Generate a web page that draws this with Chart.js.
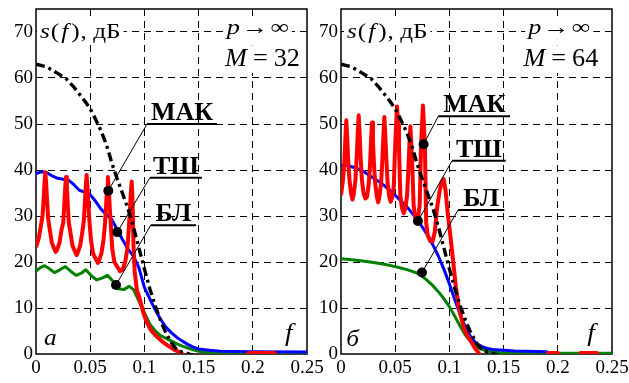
<!DOCTYPE html>
<html>
<head>
<meta charset="utf-8">
<script src="https://cdn.jsdelivr.net/npm/chart.js@4.4.1/dist/chart.umd.min.js"></script>
<style>
  body { margin: 0; background: #fff; font-family: "Liberation Serif", serif; }
  #grafA { position: absolute; left: 0; top: 0; }
  #grafB { position: absolute; left: 300px; top: 0; }
  .precarga { position: absolute; left: -1000px; top: 0; }
</style>
</head>
<body>
<div class="precarga">70 <i>s f M</i> <b>МАК</b> дБ</div>
<canvas id="grafA" width="330" height="383"></canvas>
<canvas id="grafB" width="329" height="383"></canvas>
<script>
/* ===== ДАННЫЕ ===== */
const xTicks = [0, 0.05, 0.1, 0.15, 0.2, 0.25];
const xTickLabels = ["0", "0.05", "0.1", "0.15", "0.2", "0.25"];
const yTicks = [0, 10, 20, 30, 40, 50, 60, 70];

// теоретическая кривая (p -> inf), черная штрихпунктирная
const fTeor = [0, 0.01, 0.02, 0.028, 0.035, 0.04, 0.045, 0.05, 0.055, 0.06, 0.065, 0.07, 0.075, 0.08, 0.085, 0.09, 0.095, 0.1, 0.105, 0.11, 0.115, 0.12, 0.125, 0.13, 0.135, 0.14, 0.145, 0.15];
const sTeor = [63, 62.4, 61, 59.8, 58, 56.5, 55, 53.3, 51, 48.5, 45.5, 41.5, 38, 34.8, 31.5, 27.5, 23, 18.5, 14.2, 10.5, 7.2, 4.5, 2.4, 0.9, 0.4, 0.1, -0.3, -2];

// M = 32
const fMak32 = [0, 0.0026, 0.0046, 0.006, 0.007, 0.0078, 0.0086, 0.0094, 0.0102, 0.0112, 0.0126, 0.0146, 0.018,
  0.0192, 0.0217, 0.0237, 0.0251, 0.0261, 0.0269, 0.0277, 0.0285, 0.0293, 0.0303, 0.0317, 0.0337, 0.0375,
  0.0382, 0.0407, 0.0427, 0.0441, 0.0451, 0.0459, 0.0467, 0.0475, 0.0483, 0.0493, 0.0507, 0.0527, 0.057,
  0.0578, 0.0603, 0.0623, 0.0637, 0.0647, 0.0655, 0.0663, 0.0671, 0.0679, 0.0689, 0.0703, 0.0723, 0.0775,
  0.0798, 0.0823, 0.0843, 0.0857, 0.0867, 0.0875, 0.0883, 0.0891, 0.0899, 0.091, 0.093, 0.096, 0.099, 0.102, 0.106, 0.111, 0.116, 0.1206, 0.127, 0.133, 0.138, 0.145, 0.19, 0.196, 0.22, 0.226, 0.25];
const sMak32 = [23.2, 25.2, 28, 30, 33.5, 37, 39.5, 37, 33.5, 29.5, 27.2, 24.2, 22.2,
  22.5, 24.2, 27.2, 28.5, 32.5, 36, 38.5, 36, 32.5, 28.5, 26.5, 23.5, 21.5,
  21.8, 23.5, 26.5, 28.9, 32.9, 36.4, 38.9, 36.4, 32.9, 28.9, 24.8, 21.8, 19.8,
  20.1, 21.8, 24.8, 28.5, 32.5, 36, 38.5, 36, 32.5, 28.5, 23, 20, 18,
  18.3, 20, 23, 27.5, 31.5, 35, 37.5, 33, 24, 18, 14, 11.7, 9, 7, 5.2, 3.9, 2.8, 2, 1, 0.3, -0.5, -6, -6, 0.2, 0.2, -6, -6];

const fTsh32 = [0, 0.005, 0.01, 0.015, 0.02, 0.025, 0.03, 0.035, 0.04, 0.045, 0.05, 0.055, 0.06, 0.065, 0.07, 0.075, 0.08, 0.085, 0.09, 0.095, 0.1, 0.105, 0.11, 0.115, 0.12, 0.125, 0.13, 0.135, 0.14, 0.145, 0.15, 0.16, 0.17, 0.2, 0.25];
const sTsh32 = [39.2, 39.6, 39.4, 38.7, 38.2, 38, 37.8, 36.8, 35.6, 35.2, 34.6, 33.2, 31.5, 30.3, 29.2, 27, 24.8, 22.8, 21.2, 18.7, 14.5, 12, 9.6, 7.5, 5.8, 4.6, 3.6, 2.8, 2.1, 1.5, 1.1, 0.8, 0.6, 0.5, 0.45];

const fBl32 = [0, 0.004, 0.008, 0.012, 0.017, 0.022, 0.027, 0.032, 0.037, 0.042, 0.046, 0.051, 0.056, 0.061, 0.066, 0.071, 0.076, 0.081, 0.086, 0.09, 0.095, 0.1, 0.105, 0.11, 0.115, 0.12, 0.125, 0.13, 0.135, 0.14, 0.145, 0.15, 0.16, 0.18, 0.25];
const sBl32 = [18, 18.8, 19.2, 18.6, 17.7, 18.3, 19, 18, 17.1, 17.6, 18.3, 17, 16.1, 16.5, 17.1, 15.8, 14.2, 14, 14.7, 14, 11.5, 9, 6.5, 5, 4, 3.4, 2.8, 2.2, 1.7, 1.3, 0.9, 0.6, 0.4, 0.2, 0.1];

// M = 64
const fMak64 = [0, 0.0019, 0.0031, 0.004, 0.0049, 0.0058, 0.0067, 0.0079, 0.0094, 0.0106,
  0.0118, 0.0133, 0.0145, 0.0154, 0.0163, 0.0172, 0.0181, 0.0193, 0.0208, 0.0225,
  0.0241, 0.0256, 0.0268, 0.0277, 0.0286, 0.0295, 0.0304, 0.0316, 0.0331, 0.0343,
  0.0355, 0.037, 0.0382, 0.0391, 0.04, 0.0409, 0.0418, 0.043, 0.0445, 0.0458,
  0.0472, 0.0487, 0.0499, 0.0508, 0.0517, 0.0526, 0.0535, 0.0547, 0.0562, 0.0578,
  0.0595, 0.061, 0.0622, 0.0631, 0.064, 0.0649, 0.0658, 0.067, 0.0685, 0.0698,
  0.0711, 0.0726, 0.0738, 0.0747, 0.0756, 0.0765, 0.0774, 0.0786, 0.0801, 0.0825,
  0.0845, 0.0865, 0.0885, 0.091, 0.093, 0.0947, 0.0965, 0.0985, 0.1008, 0.104, 0.106, 0.1085, 0.111, 0.113, 0.116, 0.1193, 0.123, 0.127, 0.13, 0.15,
  0.189, 0.191, 0.2, 0.202, 0.219, 0.221, 0.236, 0.238, 0.25];
const sMak64 = [34.5, 38, 41.8, 46.8, 50.8, 46.8, 41.8, 37.6, 34.8, 33.6,
  34.8, 37.8, 42.9, 47.9, 51.9, 47.9, 42.9, 37.8, 35, 33.8,
  34.2, 37, 41.3, 46.3, 50.3, 46.3, 41.3, 37, 34.2, 33,
  34.3, 37.1, 42.5, 47.5, 51.5, 47.5, 42.5, 37.1, 34.3, 33.1,
  34, 36.5, 44.8, 49.8, 53.8, 49.8, 44.8, 34.6, 31.8, 30.6,
  31.8, 34.6, 40.5, 45.5, 49.5, 45.5, 40.5, 32.4, 29.6, 28.4,
  29.6, 32.4, 45, 50, 54, 50, 45, 28.5, 25.7, 24.5,
  24.5, 26.5, 31.5, 35.5, 37.4, 38, 35.5, 30.5, 26, 19, 14.5, 10.3, 7.8, 5.9, 4.2, 3, 1.5, 0.2, -1, -6,
  -6, 0.2, 0.2, -6, -6, 0.2, 0.2, -6, -6];

const fTsh64 = [0, 0.005, 0.01, 0.015, 0.02, 0.025, 0.03, 0.035, 0.04, 0.045, 0.05, 0.055, 0.06, 0.065, 0.07, 0.075, 0.08, 0.085, 0.09, 0.095, 0.1, 0.105, 0.11, 0.115, 0.12, 0.125, 0.13, 0.135, 0.14, 0.15, 0.16, 0.19, 0.196, 0.25];
const sTsh64 = [41, 41, 40.7, 40.3, 39.8, 39, 38.2, 37.5, 36.6, 35.6, 34.5, 33.3, 32.2, 30.8, 29.3, 27.6, 25.8, 23.6, 21.2, 18.4, 15.2, 11.8, 8.5, 5.7, 3.6, 2.3, 1.6, 1.2, 1, 0.8, 0.65, 0.5, -2, -2];

const fBl64 = [0, 0.01, 0.02, 0.03, 0.04, 0.05, 0.055, 0.06, 0.065, 0.07, 0.075, 0.08, 0.085, 0.09, 0.095, 0.1, 0.105, 0.11, 0.115, 0.12, 0.125, 0.13, 0.135, 0.14, 0.15, 0.25];
const sBl64 = [20.7, 20.5, 20.2, 19.9, 19.5, 19, 18.7, 18.4, 18, 17.6, 16.9, 15.9, 14.8, 13.5, 12, 10.3, 8.2, 6, 4, 2.6, 1.6, 1, 0.6, 0.4, 0.2, 0.15];

/* ===== ПОДПИСИ ===== */
const notas32 = [
  { texto: "МАК", punto: [0.0667, 35.5], linea: [0.1024, 0.167, 50] },
  { texto: "ТШ", punto: [0.075, 26.5], linea: [0.105, 0.153, 38.3] },
  { texto: "БЛ", punto: [0.0738, 15], linea: [0.1058, 0.1476, 28] }
];
const notas64 = [
  { texto: "МАК", punto: [0.0762, 45.6], linea: [0.0898, 0.156, 51.7] },
  { texto: "ТШ", punto: [0.071, 28.9], linea: [0.1024, 0.152, 42] },
  { texto: "БЛ", punto: [0.0747, 17.7], linea: [0.108, 0.1507, 31.3] }
];

const SERIF = "'Liberation Serif', 'Times New Roman', Tinos, serif";

function puntos(fs, ss) {
  return fs.map((f, i) => ({ x: f, y: ss[i] }));
}

// рисует строку из кусков (обычный / курсив) с растяжением по горизонтали
function dibujarPartes(ctx, partes, x, y, size, sx, alinear, fondo) {
  ctx.save();
  ctx.textBaseline = "middle";
  ctx.textAlign = "left";
  let ancho = 0;
  partes.forEach(p => {
    ctx.font = (p[1] ? "italic " : "") + size + "px " + SERIF;
    p.w = ctx.measureText(p[0]).width * sx;
    ancho += p.w + (p[2] || 0);
  });
  let x0 = alinear === "right" ? x - ancho : x;
  if (fondo) {
    ctx.fillStyle = "#fff";
    ctx.fillRect(x0 - 3, y - size * 0.55, ancho + 6, size * 1.1);
  }
  ctx.fillStyle = "#000";
  partes.forEach(p => {
    ctx.font = (p[1] ? "italic " : "") + size + "px " + SERIF;
    ctx.save();
    ctx.translate(x0, y);
    ctx.scale(sx, 1);
    ctx.fillText(p[0], 0, 0);
    ctx.restore();
    x0 += p.w + (p[2] || 0);
  });
  ctx.restore();
}

const pluginMarco = {
  id: "marco",
  beforeDatasetsDraw(chart) {
    const { ctx, chartArea: a } = chart;
    ctx.save();
    ctx.strokeStyle = "#000";
    ctx.lineWidth = 1.5;
    ctx.strokeRect(a.left, a.top, a.right - a.left, a.bottom - a.top);
    ctx.restore();
  }
};

const pluginNotas = {
  id: "notas",
  afterDatasetsDraw(chart, args, opts) {
    const { ctx } = chart;
    const sx = chart.scales.x, sy = chart.scales.y;
    const px = v => sx.getPixelForValue(v);
    const py = v => sy.getPixelForValue(v);
    ctx.save();
    opts.marcas.forEach(m => {
      const dx = px(m.punto[0]), dy = py(m.punto[1]);
      const u1 = px(m.linea[0]), u2 = px(m.linea[1]), uy = py(m.linea[2]);
      ctx.strokeStyle = "#000";
      ctx.lineWidth = 1;
      ctx.beginPath(); ctx.moveTo(dx, dy); ctx.lineTo(u1, uy); ctx.stroke();
      ctx.lineWidth = 2;
      ctx.beginPath(); ctx.moveTo(u1, uy); ctx.lineTo(u2, uy); ctx.stroke();
      ctx.fillStyle = "#000";
      ctx.beginPath(); ctx.arc(dx, dy, 5, 0, Math.PI * 2); ctx.fill();
      ctx.font = "bold 26px " + SERIF;
      ctx.textAlign = "center";
      ctx.textBaseline = "alphabetic";
      ctx.fillText(m.texto, (u1 + u2) / 2, uy - 4);
    });
    ctx.restore();

    const t = opts.textos;
    dibujarPartes(ctx, [["s", true, 1], ["(", false, 2], ["f", true, 3], [")", false, 1], [", дБ", false, 0]],
      px(t.sf[0]), py(t.sf[1]), 21, 1.2, "left", true);
    dibujarPartes(ctx, [["p", true, 2], ["→", false, 2], ["∞", false, 0]],
      px(t.p[0]), py(t.p[1]), 21, 1.25, "left", true);
    dibujarPartes(ctx, [["M", true, 6], ["=", false, 6], [t.m, false, 0]],
      px(t.M[0]), py(t.M[1]), 25, 1.05, "right", true);
    dibujarPartes(ctx, [[t.letra, true, 0]], px(t.l[0]), py(t.l[1]), 23, 1.1, "left", false);
    dibujarPartes(ctx, [["f", true, 0]], px(t.f[0]), py(t.f[1]), 25, 1.1, "left", false);
  }
};

function crearGrafica(id, series, marcas, textos, ancho, derecha) {
  const fuenteTicks = { family: SERIF, size: 19 };
  const colorBorde = c => {
    const v = c.tick ? c.tick.value : null;
    return (v === 0 || v === 0.25 || v === 75) ? "rgba(0,0,0,0)" : "#000";
  };
  return new Chart(document.getElementById(id), {
    type: "line",
    data: {
      datasets: [
        { data: puntos(fTeor, sTeor), borderColor: "#000", borderWidth: 3.4, borderDash: [9, 4, 3, 4] },
        { data: puntos(series.mak[0], series.mak[1]), borderColor: "#ff0000", borderWidth: 4 },
        { data: puntos(series.tsh[0], series.tsh[1]), borderColor: "#0000ff", borderWidth: 3 },
        { data: puntos(series.bl[0], series.bl[1]), borderColor: "#008000", borderWidth: 3 }
      ]
    },
    options: {
      responsive: false,
      animation: false,
      layout: { padding: { top: 9, right: derecha, left: 0, bottom: 0 } },
      elements: { point: { radius: 0 }, line: { tension: 0, borderJoinStyle: "round" } },
      plugins: {
        legend: { display: false },
        tooltip: { enabled: false },
        notas: { marcas, textos }
      },
      scales: {
        x: {
          type: "linear",
          min: 0,
          max: 0.25,
          afterBuildTicks: ax => { ax.ticks = xTicks.map(v => ({ value: v })); },
          afterFit: ax => { ax.height = 29; ax.paddingLeft = 0; ax.paddingRight = 0; },
          ticks: {
            autoSkip: false, maxRotation: 0, padding: 3, color: "#000", font: fuenteTicks,
            callback: (v, i) => xTickLabels[i]
          },
          grid: { color: colorBorde, lineWidth: 1, drawTicks: false },
          border: { display: false, dash: [7, 5] }
        },
        y: {
          min: 0,
          max: 75,
          afterBuildTicks: ax => { ax.ticks = yTicks.map(v => ({ value: v })); },
          afterFit: ax => { ax.width = ancho; ax.paddingTop = 0; ax.paddingBottom = 0; },
          ticks: { padding: 3, color: "#000", font: fuenteTicks },
          grid: { color: colorBorde, lineWidth: 1, drawTicks: false },
          border: { display: false, dash: [7, 5] }
        }
      }
    },
    plugins: [pluginMarco, pluginNotas]
  });
}

function dibujarTodo() {
  crearGrafica("grafA",
    { mak: [fMak32, sMak32], tsh: [fTsh32, sTsh32], bl: [fBl32, sBl32] },
    notas32,
    { sf: [0.0037, 70], p: [0.176, 70.8], M: [0.2435, 64.1], m: "32", letra: "а", l: [0.0074, 3.3], f: [0.2297, 4.3] },
    36, 23);

  crearGrafica("grafB",
    { mak: [fMak64, sMak64], tsh: [fTsh64, sTsh64], bl: [fBl64, sBl64] },
    notas64,
    { sf: [0.0055, 70], p: [0.1727, 70.8], M: [0.2374, 64.1], m: "64", letra: "б", l: [0.0049, 3.0], f: [0.2272, 4.3] },
    41, 17);
}

// ждём системные шрифты, потом рисуем
Promise.all([
  document.fonts.load("19px 'Liberation Serif'"),
  document.fonts.load("italic 21px 'Liberation Serif'"),
  document.fonts.load("bold 26px 'Liberation Serif'")
]).then(dibujarTodo, dibujarTodo);
</script>
</body>
</html>
